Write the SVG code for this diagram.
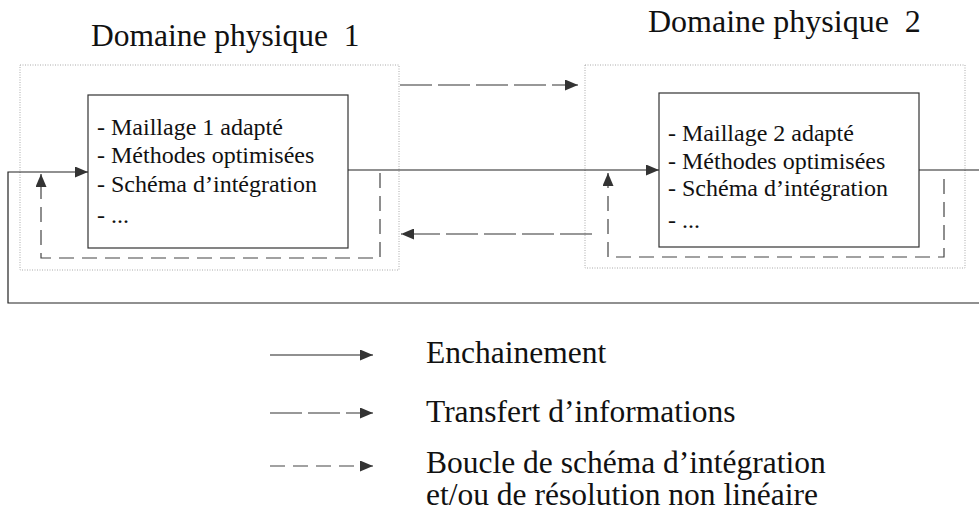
<svg xmlns="http://www.w3.org/2000/svg" width="979" height="528" viewBox="0 0 979 528">
<style>
  text { font-family: 'Liberation Serif', Tinos, 'Times New Roman', 'DejaVu Serif', serif; fill: #111; }
  .title { font-size: 31.5px; }
  .item { font-size: 24px; }
  .leg { font-size: 31.5px; }
  .domain { fill: none; stroke: #aaa; stroke-width: 1; stroke-dasharray: 1 1.5; }
  .box { fill: #fff; stroke: #333; stroke-width: 1.2; }
  .solid { fill: none; stroke: #222; stroke-width: 1.2; }
  .transfer { fill: none; stroke: #333; stroke-width: 1.2; stroke-dasharray: 32 6; }
  .loop { fill: none; stroke: #444; stroke-width: 1.2; stroke-dasharray: 15 8; }
</style>
<defs>
  <marker id="ah" markerUnits="userSpaceOnUse" markerWidth="14" markerHeight="11" refX="13" refY="5.5" orient="auto">
    <path d="M0,0 L13,5.5 L0,11 z" fill="#333"/>
  </marker>
</defs>
<rect width="979" height="528" fill="#fff"/>

<g id="domain1">
  <rect class="domain" x="20" y="65" width="379" height="205"/>
  <text class="title" x="91" y="46" xml:space="preserve">Domaine physique  1</text>
</g>
<g id="domain2">
  <rect class="domain" x="585" y="65" width="380" height="203"/>
  <text class="title" x="648" y="32" style="font-size:32px" xml:space="preserve">Domaine physique  2</text>
</g>

<g id="box1">
  <rect class="box" x="88" y="95" width="260" height="153"/>
  <text class="item" x="97" y="135">- Maillage 1 adapté</text>
  <text class="item" x="97" y="163">- Méthodes optimisées</text>
  <text class="item" x="97" y="192">- Schéma d’intégration</text>
  <text class="item" x="97" y="223">- ...</text>
</g>
<g id="box2">
  <rect class="box" x="659" y="93" width="260" height="154"/>
  <text class="item" x="668" y="141">- Maillage 2 adapté</text>
  <text class="item" x="668" y="169">- Méthodes optimisées</text>
  <text class="item" x="668" y="196">- Schéma d’intégration</text>
  <text class="item" x="668" y="228">- ...</text>
</g>

<g id="connectors">
  <path class="solid" d="M979,303 L8,303 L8,172 L88,172" marker-end="url(#ah)"/>
  <path class="solid" d="M348,170 L659,170" marker-end="url(#ah)"/>
  <path class="solid" d="M919,170 L979,170"/>
  <path class="transfer" d="M400,85 L578,85" marker-end="url(#ah)"/>
  <path class="transfer" d="M592,234 L401,234" marker-end="url(#ah)"/>
  <path class="loop" d="M380,173 L380,258 L41,258 L41,174" marker-end="url(#ah)"/>
  <path class="loop" d="M944,179 L944,257 L608,257 L608,173" marker-end="url(#ah)"/>
</g>

<g id="legend">
  <path class="solid" d="M270,355 L373,355" marker-end="url(#ah)"/>
  <text class="leg" x="426" y="363">Enchainement</text>
  <path class="transfer" d="M270,413 L373,413" stroke-dasharray="23 13" marker-end="url(#ah)"/>
  <text class="leg" x="426" y="422">Transfert d’informations</text>
  <path class="loop" d="M270,466 L373,466" stroke-dasharray="2 15 15 15 15 15 40" marker-end="url(#ah)"/>
  <text class="leg" x="426" y="473">Boucle de schéma d’intégration</text>
  <text class="leg" x="426" y="505">et/ou de résolution non linéaire</text>
</g>
</svg>
